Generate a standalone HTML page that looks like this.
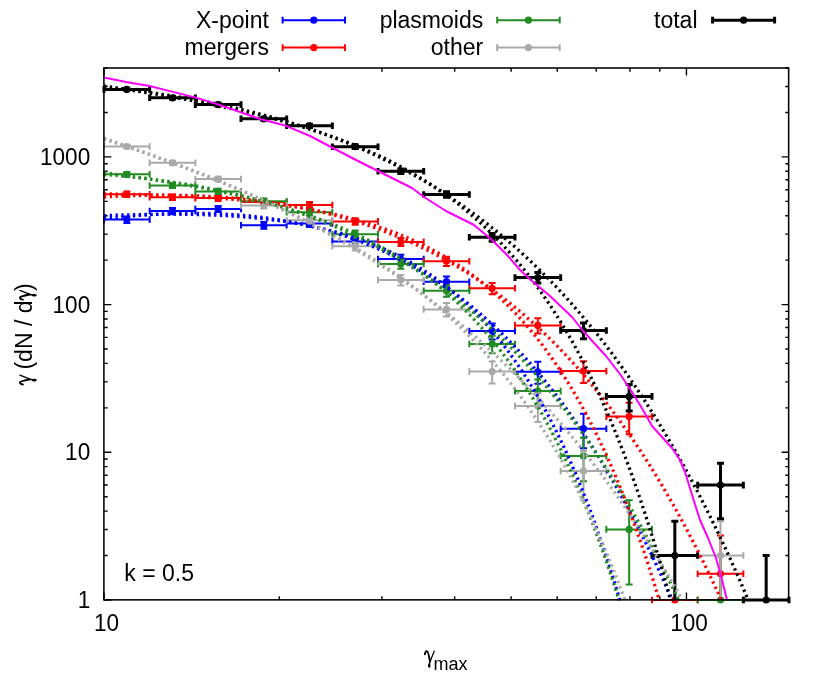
<!DOCTYPE html>
<html><head><meta charset="utf-8"><title>plot</title>
<style>html,body{margin:0;padding:0;background:#fff;overflow:hidden;}svg{display:block;}text{font-family:"Liberation Sans",sans-serif;fill:#000;}svg{will-change:transform;}</style></head><body>
<svg width="830" height="697" viewBox="0 0 830 697">
<rect x="0" y="0" width="830" height="697" fill="#ffffff"/>
<defs><clipPath id="c"><rect x="104.0" y="68.0" width="685.0" height="532.5"/></clipPath></defs>
<path d="M104.0 600.00h7.4M789.0 600.00h-7.4M104.0 555.54h3.7M789.0 555.54h-3.7M104.0 529.53h3.7M789.0 529.53h-3.7M104.0 511.08h3.7M789.0 511.08h-3.7M104.0 496.77h3.7M789.0 496.77h-3.7M104.0 485.07h3.7M789.0 485.07h-3.7M104.0 475.18h3.7M789.0 475.18h-3.7M104.0 466.62h3.7M789.0 466.62h-3.7M104.0 459.06h3.7M789.0 459.06h-3.7M104.0 452.31h7.4M789.0 452.31h-7.4M104.0 407.85h3.7M789.0 407.85h-3.7M104.0 381.84h3.7M789.0 381.84h-3.7M104.0 363.39h3.7M789.0 363.39h-3.7M104.0 349.07h3.7M789.0 349.07h-3.7M104.0 337.38h3.7M789.0 337.38h-3.7M104.0 327.49h3.7M789.0 327.49h-3.7M104.0 318.93h3.7M789.0 318.93h-3.7M104.0 311.37h3.7M789.0 311.37h-3.7M104.0 304.61h7.4M789.0 304.61h-7.4M104.0 260.15h3.7M789.0 260.15h-3.7M104.0 234.15h3.7M789.0 234.15h-3.7M104.0 215.69h3.7M789.0 215.69h-3.7M104.0 201.38h3.7M789.0 201.38h-3.7M104.0 189.69h3.7M789.0 189.69h-3.7M104.0 179.80h3.7M789.0 179.80h-3.7M104.0 171.23h3.7M789.0 171.23h-3.7M104.0 163.68h3.7M789.0 163.68h-3.7M104.0 156.92h7.4M789.0 156.92h-7.4M104.0 112.46h3.7M789.0 112.46h-3.7M104.0 86.45h3.7M789.0 86.45h-3.7M104.0 68.00h3.7M789.0 68.00h-3.7M104.00 600.0v-7.4M104.00 68.0v7.4M279.33 600.0v-3.7M279.33 68.0v3.7M381.89 600.0v-3.7M381.89 68.0v3.7M454.66 600.0v-3.7M454.66 68.0v3.7M511.11 600.0v-3.7M511.11 68.0v3.7M557.22 600.0v-3.7M557.22 68.0v3.7M596.22 600.0v-3.7M596.22 68.0v3.7M629.99 600.0v-3.7M629.99 68.0v3.7M659.79 600.0v-3.7M659.79 68.0v3.7M686.44 600.0v-7.4M686.44 68.0v7.4" stroke="#000" stroke-width="1.4" fill="none"/>
<path d="M126.83 216.38V222.99M123.33 216.38h7M123.33 222.99h7M104.00 219.60H149.67M104.00 216.30v6.6M149.67 216.30v6.6M172.50 207.98V214.17M169.00 207.98h7M169.00 214.17h7M149.67 211.00H195.33M149.67 207.70v6.6M195.33 207.70v6.6M218.17 206.03V212.12M214.67 206.03h7M214.67 212.12h7M195.33 209.00H241.00M195.33 205.70v6.6M241.00 205.70v6.6M263.83 221.93V228.85M260.33 221.93h7M260.33 228.85h7M241.00 225.30H286.67M241.00 222.00v6.6M286.67 222.00v6.6M309.50 220.18V227.00M306.00 220.18h7M306.00 227.00h7M286.67 223.50H332.33M286.67 220.20v6.6M332.33 220.20v6.6M355.17 237.60V245.44M351.67 237.60h7M351.67 245.44h7M332.33 241.40H378.00M332.33 238.10v6.6M378.00 238.10v6.6M400.83 254.66V263.66M397.33 254.66h7M397.33 263.66h7M378.00 259.00H423.67M378.00 255.70v6.6M423.67 255.70v6.6M446.50 276.55V287.30M443.00 276.55h7M443.00 287.30h7M423.67 281.70H469.33M423.67 278.40v6.6M469.33 278.40v6.6M492.17 323.57V339.41M488.67 323.57h7M488.67 339.41h7M469.33 331.00H515.00M469.33 327.70v6.6M515.00 327.70v6.6M537.83 361.79V383.66M534.33 361.79h7M534.33 383.66h7M515.00 371.80H560.67M515.00 368.50v6.6M560.67 368.50v6.6M583.50 413.72V448.28M580.00 413.72h7M580.00 448.28h7M560.67 428.70H606.33M560.67 425.40v6.6M606.33 425.40v6.6" stroke="#0000ff" stroke-width="2" fill="none"/>
<g fill="#0000ff"><circle cx="126.83" cy="219.60" r="3.6"/><circle cx="172.50" cy="211.00" r="3.6"/><circle cx="218.17" cy="209.00" r="3.6"/><circle cx="263.83" cy="225.30" r="3.6"/><circle cx="309.50" cy="223.50" r="3.6"/><circle cx="355.17" cy="241.40" r="3.6"/><circle cx="400.83" cy="259.00" r="3.6"/><circle cx="446.50" cy="281.70" r="3.6"/><circle cx="492.17" cy="331.00" r="3.6"/><circle cx="537.83" cy="371.80" r="3.6"/><circle cx="583.50" cy="428.70" r="3.6"/></g>
<path d="M126.83 191.54V196.97M123.33 191.54h7M123.33 196.97h7M104.00 194.20H149.67M104.00 190.90v6.6M149.67 190.90v6.6M172.50 194.48V200.04M169.00 194.48h7M169.00 200.04h7M149.67 197.20H195.33M149.67 193.90v6.6M195.33 193.90v6.6M218.17 195.36V200.96M214.67 195.36h7M214.67 200.96h7M195.33 198.10H241.00M195.33 194.80v6.6M241.00 194.80v6.6M263.83 199.18V204.95M260.33 199.18h7M260.33 204.95h7M241.00 202.00H286.67M241.00 198.70v6.6M286.67 198.70v6.6M309.50 202.12V208.02M306.00 202.12h7M306.00 208.02h7M286.67 205.00H332.33M286.67 201.70v6.6M332.33 201.70v6.6M355.17 218.13V224.84M351.67 218.13h7M351.67 224.84h7M332.33 221.40H378.00M332.33 218.10v6.6M378.00 218.10v6.6M400.83 238.08V245.96M397.33 238.08h7M397.33 245.96h7M378.00 241.90H423.67M378.00 238.60v6.6M423.67 238.60v6.6M446.50 256.78V265.94M443.00 256.78h7M443.00 265.94h7M423.67 261.20H469.33M423.67 257.90v6.6M469.33 257.90v6.6M492.17 282.89V294.21M488.67 282.89h7M488.67 294.21h7M469.33 288.30H515.00M469.33 285.00v6.6M515.00 285.00v6.6M537.83 318.27V333.42M534.33 318.27h7M534.33 333.42h7M515.00 325.40H560.67M515.00 322.10v6.6M560.67 322.10v6.6M583.50 361.14V382.89M580.00 361.14h7M580.00 382.89h7M560.67 371.10H606.33M560.67 367.80v6.6M606.33 367.80v6.6M629.17 402.83V434.15M625.67 402.83h7M625.67 434.15h7M606.33 416.60H652.00M606.33 413.30v6.6M652.00 413.30v6.6M674.83 555.54V600.00M671.33 555.54h7M652.00 600.00H697.67M652.00 596.70v6.6M697.67 596.70v6.6M720.50 535.56V600.00M717.00 535.56h7M697.67 573.80H743.33M697.67 570.50v6.6M743.33 570.50v6.6" stroke="#ff0000" stroke-width="2" fill="none"/>
<g fill="#ff0000"><circle cx="126.83" cy="194.20" r="3.6"/><circle cx="172.50" cy="197.20" r="3.6"/><circle cx="218.17" cy="198.10" r="3.6"/><circle cx="263.83" cy="202.00" r="3.6"/><circle cx="309.50" cy="205.00" r="3.6"/><circle cx="355.17" cy="221.40" r="3.6"/><circle cx="400.83" cy="241.90" r="3.6"/><circle cx="446.50" cy="261.20" r="3.6"/><circle cx="492.17" cy="288.30" r="3.6"/><circle cx="537.83" cy="325.40" r="3.6"/><circle cx="583.50" cy="371.10" r="3.6"/><circle cx="629.17" cy="416.60" r="3.6"/><circle cx="674.83" cy="600.00" r="3.6"/><circle cx="720.50" cy="573.80" r="3.6"/></g>
<path d="M126.83 172.02V176.67M123.33 172.02h7M123.33 176.67h7M104.00 174.30H149.67M104.00 171.00v6.6M149.67 171.00v6.6M172.50 183.01V188.09M169.00 183.01h7M169.00 188.09h7M149.67 185.50H195.33M149.67 182.20v6.6M195.33 182.20v6.6M218.17 188.80V194.11M214.67 188.80h7M214.67 194.11h7M195.33 191.40H241.00M195.33 188.10v6.6M241.00 188.10v6.6M263.83 198.40V204.13M260.33 198.40h7M260.33 204.13h7M241.00 201.20H286.67M241.00 197.90v6.6M286.67 197.90v6.6M309.50 209.15V215.40M306.00 209.15h7M306.00 215.40h7M286.67 212.20H332.33M286.67 208.90v6.6M332.33 208.90v6.6M355.17 230.60V238.02M351.67 230.60h7M351.67 238.02h7M332.33 234.20H378.00M332.33 230.90v6.6M378.00 230.90v6.6M400.83 259.39V268.75M397.33 259.39h7M397.33 268.75h7M378.00 263.90H423.67M378.00 260.60v6.6M423.67 260.60v6.6M446.50 285.28V296.83M443.00 285.28h7M443.00 296.83h7M423.67 290.80H469.33M423.67 287.50v6.6M469.33 287.50v6.6M492.17 335.82V353.37M488.67 335.82h7M488.67 353.37h7M469.33 344.00H515.00M469.33 340.70v6.6M515.00 340.70v6.6M537.83 379.61V405.11M534.33 379.61h7M534.33 405.11h7M515.00 391.10H560.67M515.00 387.80v6.6M560.67 387.80v6.6M583.50 437.84V481.13M580.00 437.84h7M580.00 481.13h7M560.67 455.90H606.33M560.67 452.60v6.6M606.33 452.60v6.6M629.17 500.19V584.55M625.67 500.19h7M625.67 584.55h7M606.33 529.40H652.00M606.33 526.10v6.6M652.00 526.10v6.6M720.50 555.54V600.00M717.00 555.54h7M697.67 600.00H743.33M697.67 596.70v6.6M743.33 596.70v6.6" stroke="#228b22" stroke-width="2" fill="none"/>
<g fill="#228b22"><circle cx="126.83" cy="174.30" r="3.6"/><circle cx="172.50" cy="185.50" r="3.6"/><circle cx="218.17" cy="191.40" r="3.6"/><circle cx="263.83" cy="201.20" r="3.6"/><circle cx="309.50" cy="212.20" r="3.6"/><circle cx="355.17" cy="234.20" r="3.6"/><circle cx="400.83" cy="263.90" r="3.6"/><circle cx="446.50" cy="290.80" r="3.6"/><circle cx="492.17" cy="344.00" r="3.6"/><circle cx="537.83" cy="391.10" r="3.6"/><circle cx="583.50" cy="455.90" r="3.6"/><circle cx="629.17" cy="529.40" r="3.6"/><circle cx="720.50" cy="600.00" r="3.6"/></g>
<path d="M126.83 144.66V148.40M123.33 144.66h7M123.33 148.40h7M104.00 146.50H149.67M104.00 143.20v6.6M149.67 143.20v6.6M172.50 160.71V164.96M169.00 160.71h7M169.00 164.96h7M149.67 162.80H195.33M149.67 159.50v6.6M195.33 159.50v6.6M218.17 176.63V181.46M214.67 176.63h7M214.67 181.46h7M195.33 179.00H241.00M195.33 175.70v6.6M241.00 175.70v6.6M263.83 202.51V208.43M260.33 202.51h7M260.33 208.43h7M241.00 205.40H286.67M241.00 202.10v6.6M286.67 202.10v6.6M309.50 216.96V223.61M306.00 216.96h7M306.00 223.61h7M286.67 220.20H332.33M286.67 216.90v6.6M332.33 216.90v6.6M355.17 242.35V250.51M351.67 242.35h7M351.67 250.51h7M332.33 246.30H378.00M332.33 243.00v6.6M378.00 243.00v6.6M400.83 274.91V285.53M397.33 274.91h7M397.33 285.53h7M378.00 280.00H423.67M378.00 276.70v6.6M423.67 276.70v6.6M446.50 303.07V316.43M443.00 303.07h7M443.00 316.43h7M423.67 309.40H469.33M423.67 306.10v6.6M469.33 306.10v6.6M492.17 361.61V383.44M488.67 361.61h7M488.67 383.44h7M469.33 371.60H515.00M469.33 368.30v6.6M515.00 368.30v6.6M537.83 393.22V421.97M534.33 393.22h7M534.33 421.97h7M515.00 406.00H560.67M515.00 402.70v6.6M560.67 402.70v6.6M583.50 451.09V500.34M580.00 451.09h7M580.00 500.34h7M560.67 471.10H606.33M560.67 467.80v6.6M606.33 467.80v6.6M720.50 521.20V600.00M717.00 521.20h7M697.67 555.50H743.33M697.67 552.20v6.6M743.33 552.20v6.6" stroke="#a9a9a9" stroke-width="2" fill="none"/>
<g fill="#a9a9a9"><circle cx="126.83" cy="146.50" r="3.6"/><circle cx="172.50" cy="162.80" r="3.6"/><circle cx="218.17" cy="179.00" r="3.6"/><circle cx="263.83" cy="205.40" r="3.6"/><circle cx="309.50" cy="220.20" r="3.6"/><circle cx="355.17" cy="246.30" r="3.6"/><circle cx="400.83" cy="280.00" r="3.6"/><circle cx="446.50" cy="309.40" r="3.6"/><circle cx="492.17" cy="371.60" r="3.6"/><circle cx="537.83" cy="406.00" r="3.6"/><circle cx="583.50" cy="471.10" r="3.6"/><circle cx="720.50" cy="555.50" r="3.6"/></g>
<path d="M126.83 88.21V90.61M123.33 88.21h7M123.33 90.61h7M104.00 89.40H149.67M104.00 86.10v6.6M149.67 86.10v6.6M172.50 96.53V99.09M169.00 96.53h7M169.00 99.09h7M149.67 97.80H195.33M149.67 94.50v6.6M195.33 94.50v6.6M218.17 103.26V105.96M214.67 103.26h7M214.67 105.96h7M195.33 104.60H241.00M195.33 101.30v6.6M241.00 101.30v6.6M263.83 117.31V120.32M260.33 117.31h7M260.33 120.32h7M241.00 118.80H286.67M241.00 115.50v6.6M286.67 115.50v6.6M309.50 124.23V127.41M306.00 124.23h7M306.00 127.41h7M286.67 125.80H332.33M286.67 122.50v6.6M332.33 122.50v6.6M355.17 144.85V148.60M351.67 144.85h7M351.67 148.60h7M332.33 146.70H378.00M332.33 143.40v6.6M378.00 143.40v6.6M400.83 169.07V173.61M397.33 169.07h7M397.33 173.61h7M378.00 171.30H423.67M378.00 168.00v6.6M423.67 168.00v6.6M446.50 191.84V197.28M443.00 191.84h7M443.00 197.28h7M423.67 194.50H469.33M423.67 191.20v6.6M469.33 191.20v6.6M492.17 233.61V241.21M488.67 233.61h7M488.67 241.21h7M469.33 237.30H515.00M469.33 234.00v6.6M515.00 234.00v6.6M537.83 272.60V283.02M534.33 272.60h7M534.33 283.02h7M515.00 277.60H560.67M515.00 274.30v6.6M560.67 274.30v6.6M583.50 323.10V338.87M580.00 323.10h7M580.00 338.87h7M560.67 330.50H606.33M560.67 327.20v6.6M606.33 327.20v6.6M629.17 384.46V411.08M625.67 384.46h7M625.67 411.08h7M606.33 396.40H652.00M606.33 393.10v6.6M652.00 393.10v6.6M674.83 521.20V600.00M671.33 521.20h7M652.00 555.50H697.67M652.00 552.20v6.6M697.67 552.20v6.6M720.50 463.14V518.76M717.00 463.14h7M717.00 518.76h7M697.67 485.10H743.33M697.67 481.80v6.6M743.33 481.80v6.6M766.17 555.54V600.00M762.67 555.54h7M743.33 600.00H789.00M743.33 596.70v6.6M789.00 596.70v6.6" stroke="#000000" stroke-width="3" fill="none"/>
<g fill="#000000"><circle cx="126.83" cy="89.40" r="3.6"/><circle cx="172.50" cy="97.80" r="3.6"/><circle cx="218.17" cy="104.60" r="3.6"/><circle cx="263.83" cy="118.80" r="3.6"/><circle cx="309.50" cy="125.80" r="3.6"/><circle cx="355.17" cy="146.70" r="3.6"/><circle cx="400.83" cy="171.30" r="3.6"/><circle cx="446.50" cy="194.50" r="3.6"/><circle cx="492.17" cy="237.30" r="3.6"/><circle cx="537.83" cy="277.60" r="3.6"/><circle cx="583.50" cy="330.50" r="3.6"/><circle cx="629.17" cy="396.40" r="3.6"/><circle cx="674.83" cy="555.50" r="3.6"/><circle cx="720.50" cy="485.10" r="3.6"/><circle cx="766.17" cy="600.00" r="3.6"/></g>
<g clip-path="url(#c)">
<path d="M104.0 219.1L106.0 218.8L108.0 218.6L110.0 218.3L112.0 218.1L114.0 217.9L116.0 217.7L118.0 217.5L120.0 217.2L122.0 217.0L124.0 216.8L126.0 216.7L128.0 216.5L130.0 216.3L132.0 216.1L134.0 215.9L136.0 215.8L138.0 215.6L140.0 215.4L142.0 215.3L144.0 215.1L146.0 215.0L148.0 214.8L150.0 214.7L152.0 214.6L154.0 214.5L156.0 214.3L158.0 214.2L160.0 214.1L162.0 214.0L164.0 213.9L166.0 213.9L168.0 213.8L170.0 213.7L172.0 213.6L174.0 213.6L176.0 213.5L178.0 213.4L180.0 213.4L182.0 213.4L184.0 213.3L186.0 213.3L188.0 213.3L190.0 213.3L192.0 213.3L194.0 213.3L196.0 213.3L198.0 213.3L200.0 213.3L202.0 213.3L204.0 213.3L206.0 213.4L208.0 213.4L210.0 213.5L212.0 213.5L214.0 213.6L216.0 213.7L218.0 213.7L220.0 213.8L222.0 213.9L224.0 214.0L226.0 214.1L228.0 214.2L230.0 214.4L232.0 214.5L234.0 214.6L236.0 214.8L238.0 214.9L240.0 215.1L242.0 215.3L244.0 215.4L246.0 215.6L248.0 215.8L250.0 216.0L252.0 216.2L254.0 216.4L256.0 216.7L258.0 216.9L260.0 217.1L262.0 217.4L264.0 217.6L266.0 217.9L268.0 218.2L270.0 218.5L272.0 218.8L274.0 219.1L276.0 219.4L278.0 219.7L280.0 220.0L282.0 220.4L284.0 220.7L286.0 221.1L288.0 221.4L290.0 221.8L292.0 222.2L294.0 222.6L296.0 223.0L298.0 223.4L300.0 223.8L302.0 224.2L304.0 224.7L306.0 225.1L308.0 225.6L310.0 226.1L312.0 226.6L314.0 227.0L316.0 227.6L318.0 228.1L320.0 228.6L322.0 229.1L324.0 229.7L326.0 230.2L328.0 230.8L330.0 231.4L332.0 232.0L334.0 232.6L336.0 233.2L338.0 233.8L340.0 234.4L342.0 235.1L344.0 235.7L346.0 236.4L348.0 237.1L350.0 237.8L352.0 238.5L354.0 239.2L356.0 239.9L358.0 240.7L360.0 241.4L362.0 242.2L364.0 243.0L366.0 243.8L368.0 244.6L370.0 245.4L372.0 246.2L374.0 247.1L376.0 247.9L378.0 248.8L380.0 249.7L382.0 250.6L384.0 251.5L386.0 252.4L388.0 253.4L390.0 254.3L392.0 255.3L394.0 256.3L396.0 257.2L398.0 258.3L400.0 259.3L402.0 260.3L404.0 261.4L406.0 262.4L408.0 263.5L410.0 264.6L412.0 265.7L414.0 266.9L416.0 268.0L418.0 269.2L420.0 270.3L422.0 271.5L424.0 272.7L426.0 274.0L428.0 275.2L430.0 276.5L432.0 277.7L434.0 279.0L436.0 280.3L438.0 281.6L440.0 283.0L442.0 284.3L444.0 285.7L446.0 287.1L448.0 288.5L450.0 289.9L452.0 291.4L454.0 292.8L456.0 294.3L458.0 295.8L460.0 297.3L462.0 298.9L464.0 300.4L466.0 302.0L468.0 303.6L470.0 305.2L472.0 306.8L474.0 308.5L476.0 310.2L478.0 311.8L480.0 313.6L482.0 315.3L484.0 317.0L486.0 318.8L488.0 320.6L490.0 322.4L492.0 324.2L494.0 326.1L496.0 328.0L498.0 329.9L500.0 331.8L502.0 333.7L504.0 335.7L506.0 337.7L508.0 339.7L510.0 341.7L512.0 343.7L514.0 345.8L516.0 347.9L518.0 350.0L520.0 352.2L522.0 354.3L524.0 356.5L526.0 358.7L528.0 361.0L530.0 363.2L532.0 365.5L534.0 367.8L536.0 370.2L538.0 372.5L540.0 374.9L542.0 377.3L544.0 379.8L546.0 382.2L548.0 384.7L550.0 387.2L552.0 389.8L554.0 392.3L556.0 394.9L558.0 397.5L560.0 400.2L562.0 402.9L564.0 405.6L566.0 408.3L568.0 411.1L570.0 413.9L572.0 416.7L574.0 419.5L576.0 422.4L578.0 425.3L580.0 428.2L582.0 431.2L584.0 434.2L586.0 437.2L588.0 440.3L590.0 443.4L592.0 446.5L594.0 449.6L596.0 452.8L598.0 456.0L600.0 459.3L602.0 462.5L604.0 465.8L606.0 469.2L608.0 472.6L610.0 476.0L612.0 479.4L614.0 482.9L616.0 486.4L618.0 489.9L620.0 493.5L622.0 497.1L624.0 500.8L626.0 504.4L628.0 508.2L630.0 511.9L632.0 515.7L634.0 519.5L636.0 523.4L638.0 527.3L640.0 531.2L642.0 535.2L644.0 539.2L646.0 543.3L648.0 547.4L650.0 551.5L652.0 555.7L654.0 559.9L656.0 564.1L658.0 568.4L660.0 572.8L662.0 577.1L664.0 581.5L666.0 586.0L668.0 590.5L670.0 595.0L672.0 599.6L674.0 604.2L676.0 608.9L678.0 613.6L680.0 618.4L682.0 623.2" stroke="#0000ff" stroke-width="3.3" stroke-dasharray="2.3 3.5" fill="none"/>
<path d="M104.0 215.7L106.0 215.6L108.0 215.5L110.0 215.4L112.0 215.4L114.0 215.3L116.0 215.2L118.0 215.2L120.0 215.1L122.0 215.0L124.0 215.0L126.0 214.9L128.0 214.8L130.0 214.8L132.0 214.7L134.0 214.7L136.0 214.6L138.0 214.6L140.0 214.6L142.0 214.5L144.0 214.5L146.0 214.4L148.0 214.4L150.0 214.4L152.0 214.4L154.0 214.3L156.0 214.3L158.0 214.3L160.0 214.3L162.0 214.3L164.0 214.2L166.0 214.2L168.0 214.2L170.0 214.2L172.0 214.2L174.0 214.2L176.0 214.3L178.0 214.3L180.0 214.3L182.0 214.3L184.0 214.3L186.0 214.3L188.0 214.4L190.0 214.4L192.0 214.4L194.0 214.5L196.0 214.5L198.0 214.6L200.0 214.6L202.0 214.7L204.0 214.7L206.0 214.8L208.0 214.9L210.0 215.0L212.0 215.0L214.0 215.1L216.0 215.2L218.0 215.3L220.0 215.4L222.0 215.5L224.0 215.6L226.0 215.7L228.0 215.8L230.0 215.9L232.0 216.1L234.0 216.2L236.0 216.3L238.0 216.5L240.0 216.6L242.0 216.8L244.0 216.9L246.0 217.1L248.0 217.2L250.0 217.4L252.0 217.6L254.0 217.8L256.0 218.0L258.0 218.2L260.0 218.4L262.0 218.6L264.0 218.8L266.0 219.0L268.0 219.3L270.0 219.5L272.0 219.8L274.0 220.0L276.0 220.3L278.0 220.5L280.0 220.8L282.0 221.1L284.0 221.4L286.0 221.7L288.0 222.0L290.0 222.3L292.0 222.6L294.0 222.9L296.0 223.3L298.0 223.6L300.0 224.0L302.0 224.3L304.0 224.7L306.0 225.1L308.0 225.5L310.0 225.9L312.0 226.3L314.0 226.7L316.0 227.2L318.0 227.6L320.0 228.0L322.0 228.5L324.0 229.0L326.0 229.5L328.0 230.0L330.0 230.5L332.0 231.0L334.0 231.5L336.0 232.0L338.0 232.6L340.0 233.1L342.0 233.7L344.0 234.3L346.0 234.9L348.0 235.5L350.0 236.1L352.0 236.8L354.0 237.4L356.0 238.1L358.0 238.8L360.0 239.5L362.0 240.2L364.0 240.9L366.0 241.6L368.0 242.4L370.0 243.1L372.0 243.9L374.0 244.7L376.0 245.5L378.0 246.4L380.0 247.2L382.0 248.1L384.0 248.9L386.0 249.8L388.0 250.8L390.0 251.7L392.0 252.6L394.0 253.6L396.0 254.6L398.0 255.6L400.0 256.6L402.0 257.7L404.0 258.7L406.0 259.8L408.0 260.9L410.0 262.0L412.0 263.2L414.0 264.3L416.0 265.5L418.0 266.7L420.0 268.0L422.0 269.2L424.0 270.5L426.0 271.8L428.0 273.1L430.0 274.5L432.0 275.9L434.0 277.3L436.0 278.7L438.0 280.1L440.0 281.6L442.0 283.1L444.0 284.7L446.0 286.2L448.0 287.8L450.0 289.4L452.0 291.1L454.0 292.8L456.0 294.5L458.0 296.2L460.0 298.0L462.0 299.8L464.0 301.6L466.0 303.4L468.0 305.3L470.0 307.3L472.0 309.2L474.0 311.2L476.0 313.3L478.0 315.3L480.0 317.4L482.0 319.6L484.0 321.7L486.0 324.0L488.0 326.2L490.0 328.5L492.0 330.8L494.0 333.2L496.0 335.6L498.0 338.1L500.0 340.6L502.0 343.1L504.0 345.7L506.0 348.3L508.0 351.0L510.0 353.7L512.0 356.5L514.0 359.3L516.0 362.2L518.0 365.1L520.0 368.0L522.0 371.0L524.0 374.1L526.0 377.2L528.0 380.4L530.0 383.6L532.0 386.9L534.0 390.2L536.0 393.6L538.0 397.0L540.0 400.5L542.0 404.1L544.0 407.7L546.0 411.4L548.0 415.1L550.0 418.9L552.0 422.8L554.0 426.7L556.0 430.7L558.0 434.8L560.0 438.9L562.0 443.1L564.0 447.4L566.0 451.8L568.0 456.2L570.0 460.7L572.0 465.2L574.0 469.9L576.0 474.6L578.0 479.4L580.0 484.3L582.0 489.2L584.0 494.3L586.0 499.4L588.0 504.6L590.0 509.9L592.0 515.3L594.0 520.8L596.0 526.3L598.0 532.0L600.0 537.7L602.0 543.6L604.0 549.5L606.0 555.5L608.0 561.7L610.0 567.9L612.0 574.2L614.0 580.7L616.0 587.2L618.0 593.9L620.0 600.7L622.0 607.5L624.0 614.5L626.0 621.6" stroke="#0000ff" stroke-width="3.3" stroke-dasharray="2.3 3.5" fill="none"/>
<path d="M104.0 196.9L106.0 196.8L108.0 196.7L110.0 196.6L112.0 196.5L114.0 196.4L116.0 196.3L118.0 196.2L120.0 196.1L122.0 196.0L124.0 196.0L126.0 195.9L128.0 195.8L130.0 195.7L132.0 195.7L134.0 195.6L136.0 195.6L138.0 195.5L140.0 195.5L142.0 195.4L144.0 195.4L146.0 195.3L148.0 195.3L150.0 195.3L152.0 195.2L154.0 195.2L156.0 195.2L158.0 195.2L160.0 195.2L162.0 195.2L164.0 195.2L166.0 195.2L168.0 195.2L170.0 195.2L172.0 195.2L174.0 195.2L176.0 195.3L178.0 195.3L180.0 195.3L182.0 195.4L184.0 195.4L186.0 195.5L188.0 195.5L190.0 195.6L192.0 195.7L194.0 195.7L196.0 195.8L198.0 195.9L200.0 196.0L202.0 196.1L204.0 196.1L206.0 196.2L208.0 196.3L210.0 196.5L212.0 196.6L214.0 196.7L216.0 196.8L218.0 196.9L220.0 197.1L222.0 197.2L224.0 197.4L226.0 197.5L228.0 197.7L230.0 197.8L232.0 198.0L234.0 198.2L236.0 198.4L238.0 198.5L240.0 198.7L242.0 198.9L244.0 199.1L246.0 199.3L248.0 199.6L250.0 199.8L252.0 200.0L254.0 200.2L256.0 200.5L258.0 200.7L260.0 201.0L262.0 201.2L264.0 201.5L266.0 201.8L268.0 202.0L270.0 202.3L272.0 202.6L274.0 202.9L276.0 203.2L278.0 203.5L280.0 203.8L282.0 204.2L284.0 204.5L286.0 204.8L288.0 205.2L290.0 205.5L292.0 205.9L294.0 206.3L296.0 206.6L298.0 207.0L300.0 207.4L302.0 207.8L304.0 208.2L306.0 208.6L308.0 209.0L310.0 209.4L312.0 209.9L314.0 210.3L316.0 210.8L318.0 211.2L320.0 211.7L322.0 212.2L324.0 212.6L326.0 213.1L328.0 213.6L330.0 214.1L332.0 214.6L334.0 215.2L336.0 215.7L338.0 216.2L340.0 216.8L342.0 217.3L344.0 217.9L346.0 218.5L348.0 219.1L350.0 219.7L352.0 220.3L354.0 220.9L356.0 221.5L358.0 222.1L360.0 222.7L362.0 223.4L364.0 224.0L366.0 224.7L368.0 225.4L370.0 226.1L372.0 226.8L374.0 227.5L376.0 228.2L378.0 228.9L380.0 229.6L382.0 230.4L384.0 231.1L386.0 231.9L388.0 232.7L390.0 233.5L392.0 234.3L394.0 235.1L396.0 235.9L398.0 236.7L400.0 237.6L402.0 238.4L404.0 239.3L406.0 240.1L408.0 241.0L410.0 241.9L412.0 242.8L414.0 243.7L416.0 244.7L418.0 245.6L420.0 246.6L422.0 247.5L424.0 248.5L426.0 249.5L428.0 250.5L430.0 251.5L432.0 252.5L434.0 253.6L436.0 254.6L438.0 255.7L440.0 256.8L442.0 257.9L444.0 259.0L446.0 260.1L448.0 261.2L450.0 262.3L452.0 263.5L454.0 264.7L456.0 265.8L458.0 267.0L460.0 268.3L462.0 269.5L464.0 270.7L466.0 272.0L468.0 273.2L470.0 274.5L472.0 275.8L474.0 277.1L476.0 278.4L478.0 279.8L480.0 281.1L482.0 282.5L484.0 283.9L486.0 285.3L488.0 286.7L490.0 288.1L492.0 289.6L494.0 291.0L496.0 292.5L498.0 294.0L500.0 295.5L502.0 297.0L504.0 298.6L506.0 300.1L508.0 301.7L510.0 303.3L512.0 304.9L514.0 306.5L516.0 308.2L518.0 309.9L520.0 311.5L522.0 313.2L524.0 314.9L526.0 316.7L528.0 318.4L530.0 320.2L532.0 322.0L534.0 323.8L536.0 325.6L538.0 327.4L540.0 329.3L542.0 331.2L544.0 333.1L546.0 335.0L548.0 336.9L550.0 338.9L552.0 340.9L554.0 342.9L556.0 344.9L558.0 346.9L560.0 349.0L562.0 351.1L564.0 353.2L566.0 355.3L568.0 357.4L570.0 359.6L572.0 361.8L574.0 364.0L576.0 366.2L578.0 368.5L580.0 370.8L582.0 373.1L584.0 375.4L586.0 377.7L588.0 380.1L590.0 382.5L592.0 384.9L594.0 387.3L596.0 389.8L598.0 392.2L600.0 394.8L602.0 397.3L604.0 399.8L606.0 402.4L608.0 405.0L610.0 407.6L612.0 410.3L614.0 413.0L616.0 415.7L618.0 418.4L620.0 421.2L622.0 423.9L624.0 426.8L626.0 429.6L628.0 432.5L630.0 435.3L632.0 438.3L634.0 441.2L636.0 444.2L638.0 447.2L640.0 450.2L642.0 453.3L644.0 456.3L646.0 459.5L648.0 462.6L650.0 465.8L652.0 469.0L654.0 472.2L656.0 475.5L658.0 478.8L660.0 482.1L662.0 485.4L664.0 488.8L666.0 492.2L668.0 495.7L670.0 499.1L672.0 502.7L674.0 506.2L676.0 509.8L678.0 513.4L680.0 517.0L682.0 520.7L684.0 524.4L686.0 528.1L688.0 531.9L690.0 535.7L692.0 539.6L694.0 543.4L696.0 547.4L698.0 551.3L700.0 555.3L702.0 559.3L704.0 563.4L706.0 567.4L708.0 571.6L710.0 575.7L712.0 579.9L714.0 584.2L716.0 588.5L718.0 592.8L720.0 597.1L722.0 601.5L724.0 606.0L726.0 610.4L728.0 615.0L730.0 619.5L732.0 624.1" stroke="#ff0000" stroke-width="3.3" stroke-dasharray="2.3 3.5" fill="none"/>
<path d="M104.0 193.9L106.0 193.9L108.0 194.0L110.0 194.0L112.0 194.0L114.0 194.0L116.0 194.1L118.0 194.1L120.0 194.1L122.0 194.2L124.0 194.2L126.0 194.2L128.0 194.3L130.0 194.3L132.0 194.4L134.0 194.4L136.0 194.4L138.0 194.5L140.0 194.5L142.0 194.6L144.0 194.6L146.0 194.7L148.0 194.8L150.0 194.8L152.0 194.9L154.0 194.9L156.0 195.0L158.0 195.1L160.0 195.1L162.0 195.2L164.0 195.3L166.0 195.3L168.0 195.4L170.0 195.5L172.0 195.6L174.0 195.7L176.0 195.8L178.0 195.8L180.0 195.9L182.0 196.0L184.0 196.1L186.0 196.2L188.0 196.3L190.0 196.4L192.0 196.5L194.0 196.6L196.0 196.7L198.0 196.9L200.0 197.0L202.0 197.1L204.0 197.2L206.0 197.3L208.0 197.5L210.0 197.6L212.0 197.7L214.0 197.9L216.0 198.0L218.0 198.2L220.0 198.3L222.0 198.4L224.0 198.6L226.0 198.8L228.0 198.9L230.0 199.1L232.0 199.3L234.0 199.4L236.0 199.6L238.0 199.8L240.0 200.0L242.0 200.1L244.0 200.3L246.0 200.5L248.0 200.7L250.0 200.9L252.0 201.1L254.0 201.3L256.0 201.6L258.0 201.8L260.0 202.0L262.0 202.2L264.0 202.5L266.0 202.7L268.0 203.0L270.0 203.2L272.0 203.5L274.0 203.7L276.0 204.0L278.0 204.2L280.0 204.5L282.0 204.8L284.0 205.1L286.0 205.4L288.0 205.7L290.0 206.0L292.0 206.3L294.0 206.6L296.0 206.9L298.0 207.2L300.0 207.6L302.0 207.9L304.0 208.2L306.0 208.6L308.0 208.9L310.0 209.3L312.0 209.7L314.0 210.1L316.0 210.4L318.0 210.8L320.0 211.2L322.0 211.6L324.0 212.0L326.0 212.5L328.0 212.9L330.0 213.3L332.0 213.8L334.0 214.2L336.0 214.7L338.0 215.2L340.0 215.6L342.0 216.1L344.0 216.6L346.0 217.1L348.0 217.6L350.0 218.1L352.0 218.7L354.0 219.2L356.0 219.8L358.0 220.3L360.0 220.9L362.0 221.5L364.0 222.1L366.0 222.7L368.0 223.3L370.0 223.9L372.0 224.5L374.0 225.2L376.0 225.8L378.0 226.5L380.0 227.2L382.0 227.9L384.0 228.6L386.0 229.3L388.0 230.0L390.0 230.7L392.0 231.5L394.0 232.2L396.0 233.0L398.0 233.8L400.0 234.6L402.0 235.4L404.0 236.3L406.0 237.1L408.0 238.0L410.0 238.9L412.0 239.7L414.0 240.6L416.0 241.6L418.0 242.5L420.0 243.5L422.0 244.4L424.0 245.4L426.0 246.4L428.0 247.4L430.0 248.5L432.0 249.5L434.0 250.6L436.0 251.7L438.0 252.8L440.0 253.9L442.0 255.1L444.0 256.2L446.0 257.4L448.0 258.6L450.0 259.8L452.0 261.1L454.0 262.3L456.0 263.6L458.0 264.9L460.0 266.3L462.0 267.6L464.0 269.0L466.0 270.4L468.0 271.8L470.0 273.3L472.0 274.7L474.0 276.2L476.0 277.7L478.0 279.3L480.0 280.8L482.0 282.4L484.0 284.1L486.0 285.7L488.0 287.4L490.0 289.1L492.0 290.8L494.0 292.6L496.0 294.4L498.0 296.2L500.0 298.0L502.0 299.9L504.0 301.8L506.0 303.7L508.0 305.7L510.0 307.7L512.0 309.8L514.0 311.8L516.0 313.9L518.0 316.1L520.0 318.2L522.0 320.5L524.0 322.7L526.0 325.0L528.0 327.3L530.0 329.7L532.0 332.1L534.0 334.5L536.0 337.0L538.0 339.5L540.0 342.0L542.0 344.6L544.0 347.3L546.0 350.0L548.0 352.7L550.0 355.5L552.0 358.3L554.0 361.2L556.0 364.1L558.0 367.0L560.0 370.0L562.0 373.1L564.0 376.2L566.0 379.3L568.0 382.5L570.0 385.8L572.0 389.1L574.0 392.5L576.0 395.9L578.0 399.4L580.0 402.9L582.0 406.5L584.0 410.1L586.0 413.8L588.0 417.6L590.0 421.4L592.0 425.3L594.0 429.3L596.0 433.3L598.0 437.4L600.0 441.5L602.0 445.7L604.0 450.0L606.0 454.4L608.0 458.8L610.0 463.3L612.0 467.9L614.0 472.5L616.0 477.2L618.0 482.0L620.0 486.9L622.0 491.8L624.0 496.8L626.0 502.0L628.0 507.1L630.0 512.4L632.0 517.8L634.0 523.2L636.0 528.8L638.0 534.4L640.0 540.1L642.0 545.9L644.0 551.8L646.0 557.8L648.0 563.9L650.0 570.1L652.0 576.4L654.0 582.7L656.0 589.2L658.0 595.8L660.0 602.5L662.0 609.3L664.0 616.3L666.0 623.3" stroke="#ff0000" stroke-width="3.3" stroke-dasharray="2.3 3.5" fill="none"/>
<path d="M104.0 174.4L106.0 174.6L108.0 174.7L110.0 174.9L112.0 175.1L114.0 175.2L116.0 175.4L118.0 175.6L120.0 175.8L122.0 176.0L124.0 176.2L126.0 176.4L128.0 176.5L130.0 176.8L132.0 177.0L134.0 177.2L136.0 177.4L138.0 177.6L140.0 177.8L142.0 178.1L144.0 178.3L146.0 178.5L148.0 178.8L150.0 179.0L152.0 179.3L154.0 179.5L156.0 179.8L158.0 180.0L160.0 180.3L162.0 180.6L164.0 180.9L166.0 181.2L168.0 181.4L170.0 181.7L172.0 182.0L174.0 182.3L176.0 182.6L178.0 182.9L180.0 183.3L182.0 183.6L184.0 183.9L186.0 184.2L188.0 184.6L190.0 184.9L192.0 185.3L194.0 185.6L196.0 186.0L198.0 186.3L200.0 186.7L202.0 187.1L204.0 187.5L206.0 187.9L208.0 188.2L210.0 188.6L212.0 189.0L214.0 189.5L216.0 189.9L218.0 190.3L220.0 190.7L222.0 191.1L224.0 191.6L226.0 192.0L228.0 192.5L230.0 192.9L232.0 193.4L234.0 193.8L236.0 194.3L238.0 194.8L240.0 195.3L242.0 195.8L244.0 196.3L246.0 196.8L248.0 197.3L250.0 197.8L252.0 198.3L254.0 198.9L256.0 199.4L258.0 199.9L260.0 200.5L262.0 201.1L264.0 201.6L266.0 202.2L268.0 202.8L270.0 203.4L272.0 204.0L274.0 204.6L276.0 205.2L278.0 205.8L280.0 206.4L282.0 207.0L284.0 207.7L286.0 208.3L288.0 209.0L290.0 209.6L292.0 210.3L294.0 211.0L296.0 211.7L298.0 212.3L300.0 213.0L302.0 213.8L304.0 214.5L306.0 215.2L308.0 215.9L310.0 216.7L312.0 217.4L314.0 218.2L316.0 218.9L318.0 219.7L320.0 220.5L322.0 221.3L324.0 222.1L326.0 222.9L328.0 223.7L330.0 224.5L332.0 225.4L334.0 226.2L336.0 227.1L338.0 228.0L340.0 228.8L342.0 229.7L344.0 230.6L346.0 231.5L348.0 232.4L350.0 233.3L352.0 234.3L354.0 235.2L356.0 236.2L358.0 237.1L360.0 238.1L362.0 239.1L364.0 240.1L366.0 241.1L368.0 242.1L370.0 243.1L372.0 244.1L374.0 245.2L376.0 246.2L378.0 247.3L380.0 248.4L382.0 249.5L384.0 250.6L386.0 251.7L388.0 252.8L390.0 253.9L392.0 255.1L394.0 256.2L396.0 257.4L398.0 258.6L400.0 259.8L402.0 261.0L404.0 262.2L406.0 263.4L408.0 264.7L410.0 265.9L412.0 267.2L414.0 268.5L416.0 269.7L418.0 271.0L420.0 272.4L422.0 273.7L424.0 275.0L426.0 276.4L428.0 277.8L430.0 279.1L432.0 280.5L434.0 281.9L436.0 283.4L438.0 284.8L440.0 286.2L442.0 287.7L444.0 289.2L446.0 290.7L448.0 292.2L450.0 293.7L452.0 295.2L454.0 296.8L456.0 298.4L458.0 299.9L460.0 301.5L462.0 303.1L464.0 304.8L466.0 306.4L468.0 308.1L470.0 309.7L472.0 311.4L474.0 313.1L476.0 314.8L478.0 316.6L480.0 318.3L482.0 320.1L484.0 321.9L486.0 323.7L488.0 325.5L490.0 327.3L492.0 329.2L494.0 331.1L496.0 332.9L498.0 334.8L500.0 336.8L502.0 338.7L504.0 340.7L506.0 342.6L508.0 344.6L510.0 346.6L512.0 348.7L514.0 350.7L516.0 352.8L518.0 354.9L520.0 357.0L522.0 359.1L524.0 361.3L526.0 363.4L528.0 365.6L530.0 367.8L532.0 370.0L534.0 372.3L536.0 374.5L538.0 376.8L540.0 379.1L542.0 381.5L544.0 383.8L546.0 386.2L548.0 388.6L550.0 391.0L552.0 393.4L554.0 395.9L556.0 398.3L558.0 400.8L560.0 403.3L562.0 405.9L564.0 408.5L566.0 411.0L568.0 413.7L570.0 416.3L572.0 418.9L574.0 421.6L576.0 424.3L578.0 427.1L580.0 429.8L582.0 432.6L584.0 435.4L586.0 438.2L588.0 441.1L590.0 444.0L592.0 446.9L594.0 449.8L596.0 452.7L598.0 455.7L600.0 458.7L602.0 461.8L604.0 464.8L606.0 467.9L608.0 471.0L610.0 474.2L612.0 477.3L614.0 480.5L616.0 483.7L618.0 487.0L620.0 490.3L622.0 493.6L624.0 496.9L626.0 500.3L628.0 503.7L630.0 507.1L632.0 510.5L634.0 514.0L636.0 517.5L638.0 521.1L640.0 524.7L642.0 528.3L644.0 531.9L646.0 535.6L648.0 539.3L650.0 543.0L652.0 546.8L654.0 550.6L656.0 554.4L658.0 558.3L660.0 562.1L662.0 566.1L664.0 570.0L666.0 574.0L668.0 578.1L670.0 582.1L672.0 586.2L674.0 590.4L676.0 594.5L678.0 598.7L680.0 603.0L682.0 607.3L684.0 611.6L686.0 615.9L688.0 620.3L690.0 624.7" stroke="#228b22" stroke-width="3.3" stroke-dasharray="2.3 3.5" fill="none"/>
<path d="M104.0 172.7L106.0 173.0L108.0 173.3L110.0 173.5L112.0 173.8L114.0 174.0L116.0 174.3L118.0 174.6L120.0 174.8L122.0 175.1L124.0 175.4L126.0 175.7L128.0 175.9L130.0 176.2L132.0 176.5L134.0 176.8L136.0 177.1L138.0 177.4L140.0 177.7L142.0 177.9L144.0 178.2L146.0 178.5L148.0 178.8L150.0 179.1L152.0 179.4L154.0 179.7L156.0 180.1L158.0 180.4L160.0 180.7L162.0 181.0L164.0 181.3L166.0 181.6L168.0 182.0L170.0 182.3L172.0 182.6L174.0 183.0L176.0 183.3L178.0 183.6L180.0 184.0L182.0 184.3L184.0 184.7L186.0 185.0L188.0 185.4L190.0 185.7L192.0 186.1L194.0 186.5L196.0 186.8L198.0 187.2L200.0 187.6L202.0 187.9L204.0 188.3L206.0 188.7L208.0 189.1L210.0 189.5L212.0 189.9L214.0 190.3L216.0 190.7L218.0 191.1L220.0 191.5L222.0 191.9L224.0 192.4L226.0 192.8L228.0 193.2L230.0 193.7L232.0 194.1L234.0 194.5L236.0 195.0L238.0 195.4L240.0 195.9L242.0 196.4L244.0 196.8L246.0 197.3L248.0 197.8L250.0 198.3L252.0 198.8L254.0 199.3L256.0 199.8L258.0 200.3L260.0 200.8L262.0 201.3L264.0 201.8L266.0 202.4L268.0 202.9L270.0 203.4L272.0 204.0L274.0 204.5L276.0 205.1L278.0 205.7L280.0 206.2L282.0 206.8L284.0 207.4L286.0 208.0L288.0 208.6L290.0 209.2L292.0 209.8L294.0 210.5L296.0 211.1L298.0 211.7L300.0 212.4L302.0 213.0L304.0 213.7L306.0 214.4L308.0 215.0L310.0 215.7L312.0 216.4L314.0 217.1L316.0 217.9L318.0 218.6L320.0 219.3L322.0 220.1L324.0 220.8L326.0 221.6L328.0 222.3L330.0 223.1L332.0 223.9L334.0 224.7L336.0 225.5L338.0 226.3L340.0 227.2L342.0 228.0L344.0 228.9L346.0 229.7L348.0 230.6L350.0 231.5L352.0 232.4L354.0 233.3L356.0 234.2L358.0 235.2L360.0 236.1L362.0 237.1L364.0 238.1L366.0 239.1L368.0 240.1L370.0 241.1L372.0 242.1L374.0 243.2L376.0 244.2L378.0 245.3L380.0 246.4L382.0 247.5L384.0 248.6L386.0 249.7L388.0 250.9L390.0 252.0L392.0 253.2L394.0 254.4L396.0 255.6L398.0 256.9L400.0 258.1L402.0 259.4L404.0 260.7L406.0 262.0L408.0 263.3L410.0 264.6L412.0 266.0L414.0 267.3L416.0 268.7L418.0 270.2L420.0 271.6L422.0 273.0L424.0 274.5L426.0 276.0L428.0 277.5L430.0 279.1L432.0 280.6L434.0 282.2L436.0 283.8L438.0 285.5L440.0 287.1L442.0 288.8L444.0 290.5L446.0 292.2L448.0 294.0L450.0 295.8L452.0 297.6L454.0 299.4L456.0 301.3L458.0 303.2L460.0 305.1L462.0 307.0L464.0 309.0L466.0 311.0L468.0 313.0L470.0 315.1L472.0 317.2L474.0 319.3L476.0 321.5L478.0 323.6L480.0 325.9L482.0 328.1L484.0 330.4L486.0 332.7L488.0 335.1L490.0 337.4L492.0 339.9L494.0 342.3L496.0 344.8L498.0 347.4L500.0 349.9L502.0 352.5L504.0 355.2L506.0 357.9L508.0 360.6L510.0 363.4L512.0 366.2L514.0 369.0L516.0 371.9L518.0 374.9L520.0 377.9L522.0 380.9L524.0 384.0L526.0 387.1L528.0 390.3L530.0 393.5L532.0 396.8L534.0 400.1L536.0 403.4L538.0 406.9L540.0 410.3L542.0 413.9L544.0 417.4L546.0 421.1L548.0 424.8L550.0 428.5L552.0 432.3L554.0 436.2L556.0 440.1L558.0 444.1L560.0 448.1L562.0 452.2L564.0 456.4L566.0 460.6L568.0 464.9L570.0 469.3L572.0 473.7L574.0 478.2L576.0 482.8L578.0 487.4L580.0 492.1L582.0 496.9L584.0 501.8L586.0 506.7L588.0 511.7L590.0 516.8L592.0 521.9L594.0 527.2L596.0 532.5L598.0 537.9L600.0 543.4L602.0 549.0L604.0 554.6L606.0 560.4L608.0 566.2L610.0 572.2L612.0 578.2L614.0 584.3L616.0 590.5L618.0 596.8L620.0 603.2L622.0 609.7L624.0 616.3L626.0 623.0" stroke="#228b22" stroke-width="3.3" stroke-dasharray="2.3 3.5" fill="none"/>
<path d="M104.0 139.0L106.0 139.7L108.0 140.3L110.0 141.0L112.0 141.6L114.0 142.3L116.0 142.9L118.0 143.6L120.0 144.2L122.0 144.9L124.0 145.6L126.0 146.2L128.0 146.9L130.0 147.6L132.0 148.3L134.0 148.9L136.0 149.6L138.0 150.3L140.0 151.0L142.0 151.7L144.0 152.4L146.0 153.1L148.0 153.8L150.0 154.5L152.0 155.2L154.0 155.9L156.0 156.6L158.0 157.3L160.0 158.1L162.0 158.8L164.0 159.5L166.0 160.2L168.0 161.0L170.0 161.7L172.0 162.5L174.0 163.2L176.0 163.9L178.0 164.7L180.0 165.5L182.0 166.2L184.0 167.0L186.0 167.7L188.0 168.5L190.0 169.3L192.0 170.1L194.0 170.8L196.0 171.6L198.0 172.4L200.0 173.2L202.0 174.0L204.0 174.8L206.0 175.6L208.0 176.4L210.0 177.2L212.0 178.0L214.0 178.9L216.0 179.7L218.0 180.5L220.0 181.3L222.0 182.2L224.0 183.0L226.0 183.9L228.0 184.7L230.0 185.6L232.0 186.4L234.0 187.3L236.0 188.1L238.0 189.0L240.0 189.9L242.0 190.8L244.0 191.7L246.0 192.5L248.0 193.4L250.0 194.3L252.0 195.2L254.0 196.1L256.0 197.1L258.0 198.0L260.0 198.9L262.0 199.8L264.0 200.8L266.0 201.7L268.0 202.6L270.0 203.6L272.0 204.5L274.0 205.5L276.0 206.4L278.0 207.4L280.0 208.4L282.0 209.4L284.0 210.3L286.0 211.3L288.0 212.3L290.0 213.3L292.0 214.3L294.0 215.3L296.0 216.4L298.0 217.4L300.0 218.4L302.0 219.4L304.0 220.5L306.0 221.5L308.0 222.6L310.0 223.6L312.0 224.7L314.0 225.8L316.0 226.8L318.0 227.9L320.0 229.0L322.0 230.1L324.0 231.2L326.0 232.3L328.0 233.4L330.0 234.5L332.0 235.7L334.0 236.8L336.0 237.9L338.0 239.1L340.0 240.2L342.0 241.4L344.0 242.5L346.0 243.7L348.0 244.9L350.0 246.1L352.0 247.3L354.0 248.5L356.0 249.7L358.0 250.9L360.0 252.1L362.0 253.3L364.0 254.6L366.0 255.8L368.0 257.1L370.0 258.3L372.0 259.6L374.0 260.8L376.0 262.1L378.0 263.4L380.0 264.7L382.0 266.0L384.0 267.3L386.0 268.6L388.0 270.0L390.0 271.3L392.0 272.6L394.0 274.0L396.0 275.4L398.0 276.7L400.0 278.1L402.0 279.5L404.0 280.9L406.0 282.3L408.0 283.7L410.0 285.1L412.0 286.5L414.0 288.0L416.0 289.4L418.0 290.9L420.0 292.3L422.0 293.8L424.0 295.3L426.0 296.8L428.0 298.3L430.0 299.8L432.0 301.3L434.0 302.8L436.0 304.4L438.0 305.9L440.0 307.5L442.0 309.1L444.0 310.6L446.0 312.2L448.0 313.8L450.0 315.4L452.0 317.1L454.0 318.7L456.0 320.3L458.0 322.0L460.0 323.7L462.0 325.3L464.0 327.0L466.0 328.7L468.0 330.4L470.0 332.1L472.0 333.9L474.0 335.6L476.0 337.3L478.0 339.1L480.0 340.9L482.0 342.7L484.0 344.5L486.0 346.3L488.0 348.1L490.0 349.9L492.0 351.8L494.0 353.6L496.0 355.5L498.0 357.4L500.0 359.3L502.0 361.2L504.0 363.1L506.0 365.0L508.0 367.0L510.0 368.9L512.0 370.9L514.0 372.9L516.0 374.9L518.0 376.9L520.0 378.9L522.0 381.0L524.0 383.0L526.0 385.1L528.0 387.2L530.0 389.3L532.0 391.4L534.0 393.5L536.0 395.6L538.0 397.8L540.0 400.0L542.0 402.1L544.0 404.3L546.0 406.6L548.0 408.8L550.0 411.0L552.0 413.3L554.0 415.6L556.0 417.8L558.0 420.1L560.0 422.5L562.0 424.8L564.0 427.2L566.0 429.5L568.0 431.9L570.0 434.3L572.0 436.7L574.0 439.2L576.0 441.6L578.0 444.1L580.0 446.6L582.0 449.1L584.0 451.6L586.0 454.1L588.0 456.7L590.0 459.3L592.0 461.8L594.0 464.5L596.0 467.1L598.0 469.7L600.0 472.4L602.0 475.1L604.0 477.8L606.0 480.5L608.0 483.2L610.0 486.0L612.0 488.8L614.0 491.6L616.0 494.4L618.0 497.2L620.0 500.1L622.0 503.0L624.0 505.9L626.0 508.8L628.0 511.7L630.0 514.7L632.0 517.7L634.0 520.7L636.0 523.7L638.0 526.8L640.0 529.8L642.0 532.9L644.0 536.0L646.0 539.2L648.0 542.3L650.0 545.5L652.0 548.7L654.0 551.9L656.0 555.2L658.0 558.5L660.0 561.7L662.0 565.1L664.0 568.4L666.0 571.8L668.0 575.2L670.0 578.6L672.0 582.0L674.0 585.5L676.0 589.0L678.0 592.5L680.0 596.0L682.0 599.6L684.0 603.2L686.0 606.8L688.0 610.5L690.0 614.1L692.0 617.8L694.0 621.6" stroke="#a9a9a9" stroke-width="3.3" stroke-dasharray="2.3 3.5" fill="none"/>
<path d="M104.0 138.1L106.0 138.9L108.0 139.6L110.0 140.3L112.0 141.0L114.0 141.7L116.0 142.4L118.0 143.1L120.0 143.8L122.0 144.5L124.0 145.2L126.0 146.0L128.0 146.7L130.0 147.4L132.0 148.1L134.0 148.8L136.0 149.6L138.0 150.3L140.0 151.0L142.0 151.7L144.0 152.5L146.0 153.2L148.0 153.9L150.0 154.7L152.0 155.4L154.0 156.1L156.0 156.9L158.0 157.6L160.0 158.4L162.0 159.1L164.0 159.9L166.0 160.6L168.0 161.4L170.0 162.1L172.0 162.9L174.0 163.6L176.0 164.4L178.0 165.2L180.0 165.9L182.0 166.7L184.0 167.5L186.0 168.2L188.0 169.0L190.0 169.8L192.0 170.6L194.0 171.4L196.0 172.1L198.0 172.9L200.0 173.7L202.0 174.5L204.0 175.3L206.0 176.1L208.0 176.9L210.0 177.7L212.0 178.5L214.0 179.3L216.0 180.1L218.0 181.0L220.0 181.8L222.0 182.6L224.0 183.4L226.0 184.2L228.0 185.1L230.0 185.9L232.0 186.7L234.0 187.6L236.0 188.4L238.0 189.3L240.0 190.1L242.0 191.0L244.0 191.8L246.0 192.7L248.0 193.6L250.0 194.4L252.0 195.3L254.0 196.2L256.0 197.1L258.0 198.0L260.0 198.9L262.0 199.8L264.0 200.7L266.0 201.6L268.0 202.5L270.0 203.4L272.0 204.3L274.0 205.2L276.0 206.1L278.0 207.1L280.0 208.0L282.0 208.9L284.0 209.9L286.0 210.8L288.0 211.8L290.0 212.8L292.0 213.7L294.0 214.7L296.0 215.7L298.0 216.7L300.0 217.7L302.0 218.7L304.0 219.7L306.0 220.7L308.0 221.7L310.0 222.7L312.0 223.7L314.0 224.8L316.0 225.8L318.0 226.8L320.0 227.9L322.0 228.9L324.0 230.0L326.0 231.1L328.0 232.2L330.0 233.3L332.0 234.3L334.0 235.5L336.0 236.6L338.0 237.7L340.0 238.8L342.0 239.9L344.0 241.1L346.0 242.2L348.0 243.4L350.0 244.6L352.0 245.7L354.0 246.9L356.0 248.1L358.0 249.3L360.0 250.5L362.0 251.7L364.0 253.0L366.0 254.2L368.0 255.5L370.0 256.7L372.0 258.0L374.0 259.3L376.0 260.6L378.0 261.9L380.0 263.2L382.0 264.5L384.0 265.8L386.0 267.2L388.0 268.5L390.0 269.9L392.0 271.3L394.0 272.7L396.0 274.1L398.0 275.5L400.0 276.9L402.0 278.4L404.0 279.8L406.0 281.3L408.0 282.8L410.0 284.3L412.0 285.8L414.0 287.3L416.0 288.9L418.0 290.4L420.0 292.0L422.0 293.6L424.0 295.2L426.0 296.8L428.0 298.4L430.0 300.1L432.0 301.7L434.0 303.4L436.0 305.1L438.0 306.8L440.0 308.5L442.0 310.3L444.0 312.0L446.0 313.8L448.0 315.6L450.0 317.5L452.0 319.3L454.0 321.2L456.0 323.0L458.0 324.9L460.0 326.9L462.0 328.8L464.0 330.8L466.0 332.7L468.0 334.7L470.0 336.8L472.0 338.8L474.0 340.9L476.0 343.0L478.0 345.1L480.0 347.2L482.0 349.4L484.0 351.6L486.0 353.8L488.0 356.1L490.0 358.3L492.0 360.6L494.0 362.9L496.0 365.3L498.0 367.7L500.0 370.1L502.0 372.5L504.0 374.9L506.0 377.4L508.0 380.0L510.0 382.5L512.0 385.1L514.0 387.7L516.0 390.3L518.0 393.0L520.0 395.7L522.0 398.5L524.0 401.2L526.0 404.0L528.0 406.9L530.0 409.8L532.0 412.7L534.0 415.6L536.0 418.6L538.0 421.6L540.0 424.7L542.0 427.8L544.0 430.9L546.0 434.1L548.0 437.3L550.0 440.6L552.0 443.9L554.0 447.3L556.0 450.7L558.0 454.1L560.0 457.6L562.0 461.1L564.0 464.7L566.0 468.3L568.0 472.0L570.0 475.7L572.0 479.4L574.0 483.3L576.0 487.1L578.0 491.0L580.0 495.0L582.0 499.0L584.0 503.1L586.0 507.2L588.0 511.4L590.0 515.7L592.0 520.0L594.0 524.3L596.0 528.8L598.0 533.2L600.0 537.8L602.0 542.4L604.0 547.1L606.0 551.8L608.0 556.6L610.0 561.5L612.0 566.4L614.0 571.4L616.0 576.5L618.0 581.6L620.0 586.8L622.0 592.1L624.0 597.5L626.0 602.9L628.0 608.4L630.0 614.0L632.0 619.7" stroke="#a9a9a9" stroke-width="3.3" stroke-dasharray="2.3 3.5" fill="none"/>
<path d="M104.0 87.3L106.0 87.5L108.0 87.7L110.0 87.9L112.0 88.1L114.0 88.3L116.0 88.5L118.0 88.7L120.0 88.9L122.0 89.2L124.0 89.4L126.0 89.6L128.0 89.8L130.0 90.1L132.0 90.3L134.0 90.6L136.0 90.8L138.0 91.1L140.0 91.3L142.0 91.6L144.0 91.8L146.0 92.1L148.0 92.3L150.0 92.6L152.0 92.9L154.0 93.2L156.0 93.4L158.0 93.7L160.0 94.0L162.0 94.3L164.0 94.6L166.0 94.9L168.0 95.2L170.0 95.5L172.0 95.8L174.0 96.2L176.0 96.5L178.0 96.8L180.0 97.1L182.0 97.5L184.0 97.8L186.0 98.1L188.0 98.5L190.0 98.8L192.0 99.2L194.0 99.5L196.0 99.9L198.0 100.3L200.0 100.6L202.0 101.0L204.0 101.4L206.0 101.8L208.0 102.2L210.0 102.6L212.0 103.0L214.0 103.4L216.0 103.8L218.0 104.2L220.0 104.6L222.0 105.0L224.0 105.4L226.0 105.9L228.0 106.3L230.0 106.8L232.0 107.2L234.0 107.7L236.0 108.1L238.0 108.6L240.0 109.0L242.0 109.5L244.0 110.0L246.0 110.5L248.0 111.0L250.0 111.5L252.0 111.9L254.0 112.5L256.0 113.0L258.0 113.5L260.0 114.0L262.0 114.5L264.0 115.1L266.0 115.6L268.0 116.1L270.0 116.7L272.0 117.2L274.0 117.8L276.0 118.4L278.0 119.0L280.0 119.5L282.0 120.1L284.0 120.7L286.0 121.3L288.0 121.9L290.0 122.5L292.0 123.1L294.0 123.8L296.0 124.4L298.0 125.0L300.0 125.7L302.0 126.3L304.0 127.0L306.0 127.6L308.0 128.3L310.0 129.0L312.0 129.7L314.0 130.4L316.0 131.1L318.0 131.8L320.0 132.5L322.0 133.2L324.0 133.9L326.0 134.7L328.0 135.4L330.0 136.1L332.0 136.9L334.0 137.7L336.0 138.4L338.0 139.2L340.0 140.0L342.0 140.8L344.0 141.6L346.0 142.4L348.0 143.2L350.0 144.0L352.0 144.9L354.0 145.7L356.0 146.6L358.0 147.4L360.0 148.3L362.0 149.2L364.0 150.1L366.0 150.9L368.0 151.8L370.0 152.8L372.0 153.7L374.0 154.6L376.0 155.5L378.0 156.5L380.0 157.4L382.0 158.4L384.0 159.4L386.0 160.3L388.0 161.3L390.0 162.3L392.0 163.3L394.0 164.4L396.0 165.4L398.0 166.4L400.0 167.5L402.0 168.5L404.0 169.6L406.0 170.7L408.0 171.8L410.0 172.9L412.0 174.0L414.0 175.1L416.0 176.2L418.0 177.4L420.0 178.5L422.0 179.7L424.0 180.8L426.0 182.0L428.0 183.2L430.0 184.4L432.0 185.6L434.0 186.9L436.0 188.1L438.0 189.3L440.0 190.6L442.0 191.9L444.0 193.2L446.0 194.5L448.0 195.8L450.0 197.1L452.0 198.4L454.0 199.8L456.0 201.1L458.0 202.5L460.0 203.9L462.0 205.2L464.0 206.6L466.0 208.1L468.0 209.5L470.0 210.9L472.0 212.4L474.0 213.9L476.0 215.3L478.0 216.8L480.0 218.3L482.0 219.9L484.0 221.4L486.0 223.0L488.0 224.5L490.0 226.1L492.0 227.7L494.0 229.3L496.0 230.9L498.0 232.5L500.0 234.2L502.0 235.9L504.0 237.5L506.0 239.2L508.0 240.9L510.0 242.7L512.0 244.4L514.0 246.1L516.0 247.9L518.0 249.7L520.0 251.5L522.0 253.3L524.0 255.1L526.0 257.0L528.0 258.9L530.0 260.7L532.0 262.6L534.0 264.5L536.0 266.5L538.0 268.4L540.0 270.4L542.0 272.4L544.0 274.4L546.0 276.4L548.0 278.4L550.0 280.5L552.0 282.5L554.0 284.6L556.0 286.7L558.0 288.8L560.0 291.0L562.0 293.1L564.0 295.3L566.0 297.5L568.0 299.7L570.0 302.0L572.0 304.2L574.0 306.5L576.0 308.8L578.0 311.1L580.0 313.4L582.0 315.8L584.0 318.2L586.0 320.5L588.0 323.0L590.0 325.4L592.0 327.8L594.0 330.3L596.0 332.8L598.0 335.3L600.0 337.9L602.0 340.4L604.0 343.0L606.0 345.6L608.0 348.3L610.0 350.9L612.0 353.6L614.0 356.3L616.0 359.0L618.0 361.7L620.0 364.5L622.0 367.3L624.0 370.1L626.0 372.9L628.0 375.8L630.0 378.7L632.0 381.6L634.0 384.5L636.0 387.5L638.0 390.5L640.0 393.5L642.0 396.5L644.0 399.6L646.0 402.6L648.0 405.8L650.0 408.9L652.0 412.1L654.0 415.2L656.0 418.5L658.0 421.7L660.0 425.0L662.0 428.3L664.0 431.6L666.0 435.0L668.0 438.3L670.0 441.7L672.0 445.2L674.0 448.7L676.0 452.2L678.0 455.7L680.0 459.2L682.0 462.8L684.0 466.4L686.0 470.1L688.0 473.8L690.0 477.5L692.0 481.2L694.0 485.0L696.0 488.8L698.0 492.6L700.0 496.5L702.0 500.4L704.0 504.3L706.0 508.3L708.0 512.3L710.0 516.3L712.0 520.3L714.0 524.4L716.0 528.6L718.0 532.7L720.0 536.9L722.0 541.2L724.0 545.4L726.0 549.7L728.0 554.1L730.0 558.4L732.0 562.9L734.0 567.3L736.0 571.8L738.0 576.3L740.0 580.9L742.0 585.5L744.0 590.1L746.0 594.8L748.0 599.5L750.0 604.2L752.0 609.0L754.0 613.9L756.0 618.7L758.0 623.6" stroke="#000000" stroke-width="3.3" stroke-dasharray="2.3 3.5" fill="none"/>
<path d="M104.0 86.0L106.0 86.3L108.0 86.6L110.0 86.9L112.0 87.2L114.0 87.5L116.0 87.8L118.0 88.1L120.0 88.4L122.0 88.7L124.0 89.0L126.0 89.3L128.0 89.6L130.0 89.9L132.0 90.3L134.0 90.6L136.0 90.9L138.0 91.2L140.0 91.5L142.0 91.9L144.0 92.2L146.0 92.5L148.0 92.8L150.0 93.2L152.0 93.5L154.0 93.8L156.0 94.2L158.0 94.5L160.0 94.8L162.0 95.2L164.0 95.5L166.0 95.9L168.0 96.2L170.0 96.6L172.0 96.9L174.0 97.3L176.0 97.6L178.0 98.0L180.0 98.4L182.0 98.7L184.0 99.1L186.0 99.4L188.0 99.8L190.0 100.2L192.0 100.6L194.0 100.9L196.0 101.3L198.0 101.7L200.0 102.1L202.0 102.5L204.0 102.9L206.0 103.3L208.0 103.7L210.0 104.1L212.0 104.5L214.0 104.9L216.0 105.3L218.0 105.7L220.0 106.1L222.0 106.5L224.0 107.0L226.0 107.4L228.0 107.8L230.0 108.3L232.0 108.7L234.0 109.1L236.0 109.6L238.0 110.0L240.0 110.5L242.0 110.9L244.0 111.4L246.0 111.9L248.0 112.3L250.0 112.8L252.0 113.3L254.0 113.7L256.0 114.2L258.0 114.7L260.0 115.2L262.0 115.7L264.0 116.2L266.0 116.7L268.0 117.2L270.0 117.7L272.0 118.3L274.0 118.8L276.0 119.3L278.0 119.9L280.0 120.4L282.0 120.9L284.0 121.5L286.0 122.1L288.0 122.6L290.0 123.2L292.0 123.8L294.0 124.3L296.0 124.9L298.0 125.5L300.0 126.1L302.0 126.7L304.0 127.3L306.0 127.9L308.0 128.6L310.0 129.2L312.0 129.8L314.0 130.5L316.0 131.1L318.0 131.8L320.0 132.4L322.0 133.1L324.0 133.8L326.0 134.5L328.0 135.2L330.0 135.9L332.0 136.6L334.0 137.3L336.0 138.0L338.0 138.7L340.0 139.5L342.0 140.2L344.0 141.0L346.0 141.7L348.0 142.5L350.0 143.3L352.0 144.1L354.0 144.9L356.0 145.7L358.0 146.5L360.0 147.4L362.0 148.2L364.0 149.0L366.0 149.9L368.0 150.8L370.0 151.7L372.0 152.6L374.0 153.5L376.0 154.4L378.0 155.3L380.0 156.2L382.0 157.2L384.0 158.1L386.0 159.1L388.0 160.1L390.0 161.1L392.0 162.1L394.0 163.1L396.0 164.2L398.0 165.2L400.0 166.3L402.0 167.3L404.0 168.4L406.0 169.5L408.0 170.6L410.0 171.8L412.0 172.9L414.0 174.1L416.0 175.3L418.0 176.4L420.0 177.7L422.0 178.9L424.0 180.1L426.0 181.4L428.0 182.6L430.0 183.9L432.0 185.2L434.0 186.6L436.0 187.9L438.0 189.2L440.0 190.6L442.0 192.0L444.0 193.4L446.0 194.9L448.0 196.3L450.0 197.8L452.0 199.3L454.0 200.8L456.0 202.3L458.0 203.9L460.0 205.5L462.0 207.1L464.0 208.7L466.0 210.3L468.0 212.0L470.0 213.7L472.0 215.4L474.0 217.1L476.0 218.9L478.0 220.7L480.0 222.5L482.0 224.3L484.0 226.2L486.0 228.1L488.0 230.0L490.0 231.9L492.0 233.9L494.0 235.9L496.0 237.9L498.0 240.0L500.0 242.0L502.0 244.1L504.0 246.3L506.0 248.5L508.0 250.7L510.0 252.9L512.0 255.2L514.0 257.5L516.0 259.8L518.0 262.2L520.0 264.6L522.0 267.0L524.0 269.5L526.0 272.0L528.0 274.6L530.0 277.1L532.0 279.8L534.0 282.4L536.0 285.1L538.0 287.9L540.0 290.6L542.0 293.5L544.0 296.3L546.0 299.2L548.0 302.2L550.0 305.2L552.0 308.2L554.0 311.3L556.0 314.4L558.0 317.6L560.0 320.8L562.0 324.1L564.0 327.4L566.0 330.7L568.0 334.2L570.0 337.6L572.0 341.1L574.0 344.7L576.0 348.3L578.0 352.0L580.0 355.8L582.0 359.5L584.0 363.4L586.0 367.3L588.0 371.3L590.0 375.3L592.0 379.4L594.0 383.5L596.0 387.7L598.0 392.0L600.0 396.3L602.0 400.7L604.0 405.2L606.0 409.7L608.0 414.4L610.0 419.0L612.0 423.8L614.0 428.6L616.0 433.5L618.0 438.5L620.0 443.5L622.0 448.6L624.0 453.8L626.0 459.1L628.0 464.5L630.0 469.9L632.0 475.4L634.0 481.0L636.0 486.7L638.0 492.5L640.0 498.4L642.0 504.4L644.0 510.4L646.0 516.6L648.0 522.8L650.0 529.1L652.0 535.6L654.0 542.1L656.0 548.7L658.0 555.5L660.0 562.3L662.0 569.3L664.0 576.3L666.0 583.5L668.0 590.8L670.0 598.2L672.0 605.7L674.0 613.3L676.0 621.0" stroke="#000000" stroke-width="3.3" stroke-dasharray="2.3 3.5" fill="none"/>
<path d="M104.0 77.6L126.0 82.0L149.5 86.0L172.0 91.6L195.0 97.4L218.0 104.4L240.0 112.0L260.0 119.0L286.0 125.8L310.0 136.0L332.0 147.5L356.0 160.0L378.0 171.0L400.0 182.0L412.0 188.0L424.0 197.0L446.0 211.0L474.0 225.0L492.0 240.0L508.0 256.0L520.0 270.0L532.0 281.0L550.0 296.0L572.0 317.0L584.0 332.0L606.0 356.0L620.0 374.0L632.0 392.0L643.0 410.0L652.0 426.0L672.0 448.0L680.0 460.0L685.0 472.0L693.0 498.0L700.0 520.0L708.0 538.0L716.0 558.0L721.0 576.0L727.0 600.0" stroke="#ff00ff" stroke-width="2" fill="none" stroke-linejoin="round"/>
</g>
<rect x="103.9" y="68" width="684.75" height="531.85" fill="none" stroke="#000" stroke-width="1.55"/>
<text transform="translate(90.2,608.00) scale(0.964,1)" font-size="23.4" text-anchor="end">1</text>
<text transform="translate(90.2,460.31) scale(0.964,1)" font-size="23.4" text-anchor="end">10</text>
<text transform="translate(90.2,312.61) scale(0.964,1)" font-size="23.4" text-anchor="end">100</text>
<text transform="translate(90.2,164.92) scale(0.964,1)" font-size="23.4" text-anchor="end">1000</text>
<text transform="translate(106.60,631.0) scale(0.964,1)" font-size="23.4" text-anchor="middle">10</text>
<text transform="translate(689.04,631.0) scale(0.964,1)" font-size="23.4" text-anchor="middle">100</text>
<defs><g id="gam"><path d="M0.9 -8.8C1.0 -10.7 1.9 -11.9 3.1 -11.7C4.3 -11.4 5 -7 6 -1.6" fill="none" stroke="#000" stroke-width="1.9" stroke-linecap="round"/><path d="M10.2 -11.8L6.2 -1.8C5.7 -0.4 5.4 1 5.3 2.8" fill="none" stroke="#000" stroke-width="1.25" stroke-linecap="round"/><ellipse cx="5.25" cy="2.6" rx="1.3" ry="2.4" fill="#000"/></g></defs>
<use href="#gam" transform="translate(424,663)"/>
<text x="433.6" y="669.5" font-size="18">max</text>
<g transform="translate(31.7,385.4) rotate(-90)"><use href="#gam"/><text x="15.85" y="0" font-size="23">(dN / d</text><use href="#gam" x="84.9"/><text x="94.35" y="0" font-size="23">)</text></g>
<text x="124.3" y="581.3" font-size="23">k = 0.5</text>
<text x="268.9" y="27.7" font-size="23" text-anchor="end">X-point</text>
<path d="M282.6 20.2H345.0M282.6 16.8v6.8M345.0 16.8v6.8" stroke="#0000ff" stroke-width="2" fill="none"/>
<circle cx="313.8" cy="20.2" r="3.6" fill="#0000ff"/>
<text x="268.9" y="55.0" font-size="23" text-anchor="end">mergers</text>
<path d="M282.6 47.6H345.0M282.6 44.2v6.8M345.0 44.2v6.8" stroke="#ff0000" stroke-width="2" fill="none"/>
<circle cx="313.8" cy="47.6" r="3.6" fill="#ff0000"/>
<text x="483.2" y="27.7" font-size="23" text-anchor="end">plasmoids</text>
<path d="M497.2 20.2H559.7M497.2 16.8v6.8M559.7 16.8v6.8" stroke="#228b22" stroke-width="2" fill="none"/>
<circle cx="528.45" cy="20.2" r="3.6" fill="#228b22"/>
<text x="483.2" y="55.0" font-size="23" text-anchor="end">other</text>
<path d="M497.2 47.6H559.7M497.2 44.2v6.8M559.7 44.2v6.8" stroke="#a9a9a9" stroke-width="2" fill="none"/>
<circle cx="528.45" cy="47.6" r="3.6" fill="#a9a9a9"/>
<text x="697.5" y="27.7" font-size="23" text-anchor="end">total</text>
<path d="M712.6 20.2H774.6M712.6 16.8v6.8M774.6 16.8v6.8" stroke="#000000" stroke-width="3" fill="none"/>
<circle cx="743.6" cy="20.2" r="3.6" fill="#000000"/>
</svg></body></html>
